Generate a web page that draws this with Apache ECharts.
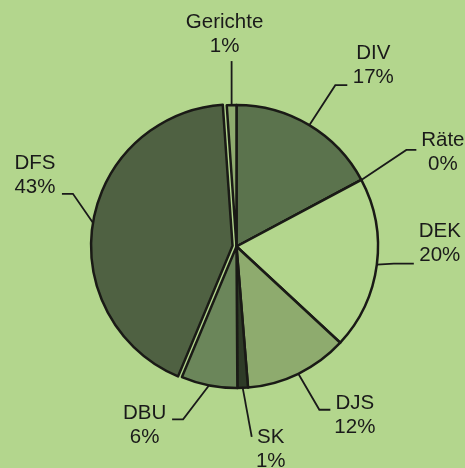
<!DOCTYPE html>
<html>
<head>
<meta charset="utf-8">
<script src="https://cdn.jsdelivr.net/npm/echarts@6/dist/echarts.min.js"></script>
<style>
    html, body { margin: 0; padding: 0; background: #b3d68d; }
    #chart { width: 465px; height: 468px; }
</style>
</head>
<body>
<div id="chart"></div>
<script>
    var names = ['DIV', 'Räte', 'DEK', 'DJS', 'SK', 'DBU', 'DFS', 'Gerichte'];
    var values = [17.2, 0, 19.7, 11.8, 1.2, 6.4, 42.6, 1.1];
    var colors = ['#5b734d', '#b3d68d', '#b3d68d', '#8eab6e', '#2e3b27', '#6b865a', '#4f6142', '#8eab6e'];
    var exploded = 'DFS';

    // label line bend: [elbow dx, elbow dy, horizontal run, text dx, text dy]
    var guides = [
        [26, -40, 12, 26, -19.5],
        [45, -30, 10, 26.5, 2],
        [17, -1, 20, 26, -20.5],
        [21, 36, 11, 24.5, 5.5],
        [9, 49, 0, 19, 12],
        [-26, 34, -11, -27.5, 6.5],
        [-20, -29, -11, -27, -18],
        [0, -44, 0, -7, -27]
    ];

    var cx = 236.5, cy = 246.5, r = 141.5, explode = 4;

    // direction of the exploded slice (middle angle, clockwise from 12 o'clock)
    var total = values.reduce(function (s, v) { return s + v; }, 0);
    var before = 0;
    for (var i = 0; i < names.indexOf(exploded); i++) before += values[i];
    var mid = (before + values[names.indexOf(exploded)] / 2) / total * Math.PI * 2;
    var ox = Math.sin(mid) * explode, oy = -Math.cos(mid) * explode;

    function makeData(onlyExploded) {
        return names.map(function (n, i) {
            var item = { name: n, value: values[i], itemStyle: { color: colors[i] } };
            if (onlyExploded !== (n === exploded)) {
                item.itemStyle = { color: 'transparent', borderWidth: 0 };
                item.label = { show: false };
                item.labelLine = { show: false };
            }
            return item;
        });
    }

    function labelLayout(p) {
        if (!p.labelLinePoints) return {};
        var g = guides[p.dataIndex];
        var a = p.labelLinePoints[0];
        var e = [a[0] + g[0], a[1] + g[1]];
        var end = [e[0] + g[2], e[1]];
        return {
            x: end[0] + g[3],
            y: end[1] + g[4],
            align: 'center',
            verticalAlign: 'middle',
            labelLinePoints: [a, e, end]
        };
    }

    function pieSeries(center, onlyExploded) {
        return {
            type: 'pie',
            center: center,
            radius: r,
            startAngle: 90,
            clockwise: true,
            avoidLabelOverlap: false,
            silent: true,
            data: makeData(onlyExploded),
            itemStyle: {
                borderColor: '#1a1a16',
                borderWidth: 2.5
            },
            emphasis: { disabled: true },
            label: {
                show: true,
                position: 'outside',
                color: '#1a1a1a',
                fontFamily: 'Liberation Sans, Arial, sans-serif',
                fontSize: 20.5,
                lineHeight: 24,
                formatter: function (p) {
                    return p.name + '\n' + Math.round(p.percent) + '%';
                }
            },
            labelLine: {
                show: true,
                length: 20,
                length2: 10,
                lineStyle: { color: '#1a1a1a', width: 1.8 }
            },
            labelLayout: labelLayout
        };
    }

    var chart = echarts.init(document.getElementById('chart'));
    chart.setOption({
        backgroundColor: '#b3d68d',
        animation: false,
        series: [
            pieSeries([cx, cy], false),
            pieSeries([cx + ox, cy + oy], true)
        ]
    });
</script>
</body>
</html>
